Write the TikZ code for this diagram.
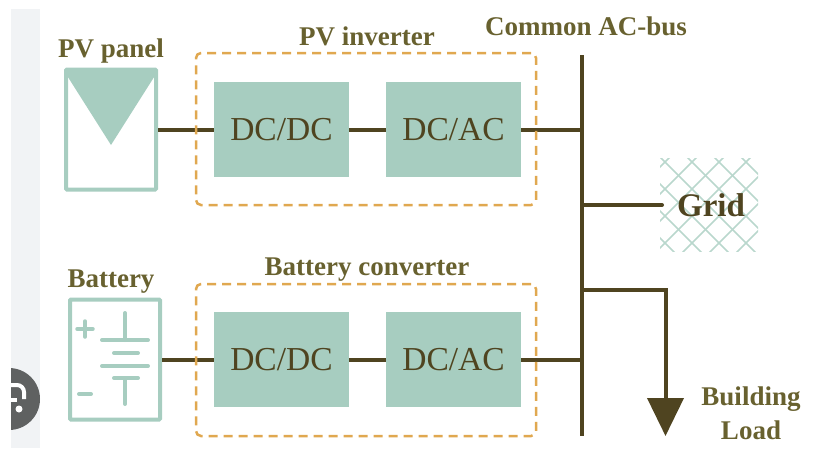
\documentclass[tikz,border=0pt]{standalone}
\usepackage{fontspec}
\setmainfont{Liberation Serif}
\usetikzlibrary{arrows.meta}
\definecolor{panelgreen}{HTML}{A7CDC0}
\definecolor{wirebrown}{HTML}{4F4420}
\definecolor{labelolive}{HTML}{68612F}
\definecolor{dashorange}{HTML}{E0A850}
\definecolor{stripgrey}{HTML}{F1F3F5}
\definecolor{badgegrey}{HTML}{5F6161}
\begin{document}
\begin{tikzpicture}[x=1pt,y=-1pt,
            block/.style={fill=panelgreen,minimum width=135pt,minimum height=95pt,inner sep=0pt,text=wirebrown,font=\fontsize{33.5}{33.5}\selectfont},
            device/.style={draw=panelgreen,line width=4pt,minimum width=90pt,minimum height=120pt,inner sep=0pt,rounded corners=1pt},
            dashbox/.style={draw=dashorange,line width=2.5pt,dash pattern=on 9pt off 6pt,rounded corners=5pt,minimum width=340pt,minimum height=152pt,inner sep=0pt},
            heading/.style={text=labelolive,inner sep=0pt,font=\fontsize{27}{34}\selectfont\bfseries},
            wire/.style={draw=wirebrown,line width=4pt},
            symbol/.style={draw=panelgreen,line width=4pt,line cap=round}]
            \useasboundingbox (0,0) rectangle (814,448);
            \fill [stripgrey] (11,9) rectangle (40,448);
            \begin{scope}
            \clip (11,9) rectangle (40,448);
            \fill [badgegrey] (9,399) circle (31);
            \draw [white,line width=4pt] (11,385) -- (17,385) arc (-90:0:7) -- (24,399);
            \draw [white,line width=4pt] (11,400) -- (17,400);
            \fill [white] (19,409) circle (3.5);
            \end{scope}

            \node [device] (pvpanel) at (111,129.5) {};
            \fill [panelgreen] (66,70) -- (156,70) -- (156,74) -- (111,145) -- (66,74) -- cycle;
            \node [heading] (pvtitle) at (111,51) {PV panel};
            \node [device] (battery) at (115,359.5) {};
            \node [heading] (batterytitle) at (111,282) {Battery};
            \draw [symbol,line width=3.5pt] (77,329) -- (93,329);
            \draw [symbol,line width=3.5pt] (85,321) -- (85,337);
            \draw [symbol] (79,394) -- (91,394);
            \draw [symbol] (125,313) -- (125,340);
            \draw [symbol] (102,340) -- (148,340);
            \draw [symbol] (114,353) -- (138,353);
            \draw [symbol] (102,366) -- (148,366);
            \draw [symbol] (114,378) -- (138,378);
            \draw [symbol] (125,378) -- (125,404);

            \node [block] (pvdcdc) at (281.5,129.5) {DC/DC};
            \node [block] (pvdcac) at (453.5,129.5) {DC/AC};
            \node [block] (batdcdc) at (281.5,359.5) {DC/DC};
            \node [block] (batdcac) at (453.5,359.5) {DC/AC};

            \coordinate (bustop) at (582,55);
            \coordinate (busbottom) at (582,436);
            \coordinate (loadtip) at (665.5,436);
            \coordinate (loadjoin) at (582,290);
            \draw [wire,line width=4.5pt] (bustop) -- (busbottom);
            \draw [wire] (pvpanel.east) -- (pvdcdc.west);
            \draw [wire] (pvdcdc.east) -- (pvdcac.west);
            \draw [wire] (pvdcac.east) -- (pvdcac.east -| bustop);
            \draw [wire] (battery.east) -- (batdcdc.west);
            \draw [wire] (batdcdc.east) -- (batdcac.west);
            \draw [wire] (batdcac.east) -- (batdcac.east -| bustop);
            \draw [wire,-{Triangle[length=38pt,width=36pt,sep=0pt]}] (loadjoin) -| (loadtip);

            \begin{scope}
            \clip (660,158) rectangle (758,251);
            \foreach \k in {-4,...,8}
                {\draw [panelgreen!80,line width=1.5pt] (660+\k*27,157) -- +(100,100);
                 \draw [panelgreen!80,line width=1.5pt] (670+\k*27,157) -- +(-100,100);}
            \end{scope}
            \node [minimum width=98pt,minimum height=93pt,inner sep=0pt,text=wirebrown,font=\fontsize{33}{33}\selectfont\bfseries] (grid) at (711,205) {Grid};
            \draw [wire,line cap=round] (grid.west -| bustop) -- (662,205);

            \node [dashbox] (pvinverter) at (366,129) {};
            \node [dashbox] (batconverter) at (366,360) {};
            \node [heading] (invertertitle) at (367,36) {PV inverter};
            \node [heading] (convertertitle) at (367,270) {Battery converter};
            \node [heading] (bustitle) at (586,26) {Common AC-bus};
            \node [heading,align=center] (loadtitle) at (751,413) {Building\\Load};
            \end{tikzpicture}
\end{document}
